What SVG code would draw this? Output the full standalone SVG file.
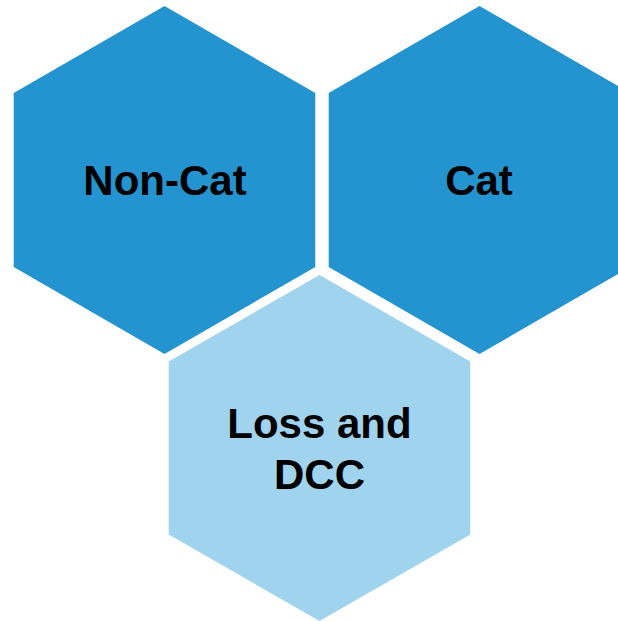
<svg xmlns="http://www.w3.org/2000/svg" width="618" height="621" viewBox="0 0 618 621">
  <style>
    .dark { fill: #2394D0; }
    .light { fill: #9FD3EE; }
    .label { font-family: "Liberation Sans", Arial, sans-serif; font-weight: bold; font-size: 42px; fill: #000000; text-anchor: middle; }
  </style>
  <rect width="618" height="621" fill="#FFFFFF"/>
  <g id="non-cat">
    <polygon class="dark" points="164.5,6 315.3,93 315.3,267 164.5,354 13.7,267 13.7,93"/>
    <text class="label" x="165" y="195">Non-Cat</text>
  </g>
  <g id="cat">
    <polygon class="dark" points="479.5,6 630.3,93 630.3,267 479.5,354 328.7,267 328.7,93"/>
    <text class="label" x="479" y="195">Cat</text>
  </g>
  <g id="loss-and-dcc">
    <polygon class="light" points="319.5,275 470.3,361.5 470.3,534.5 319.5,621 168.7,534.5 168.7,361.5"/>
    <text class="label" x="319.5" y="438">Loss and</text>
    <text class="label" x="319.5" y="489">DCC</text>
  </g>
  <g id="connectors"/>
</svg>
